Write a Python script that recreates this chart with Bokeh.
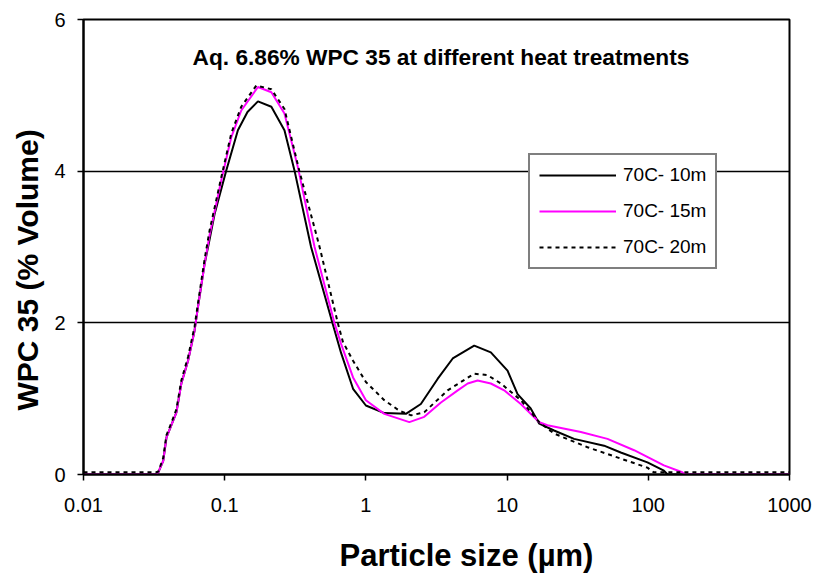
from bokeh.plotting import figure
from bokeh.models import Range1d, FixedTicker, Label, Title, LogAxis, CustomJSTickFormatter
from bokeh.embed import file_html
from bokeh.resources import INLINE

# ---- data ----
x10 = [0.01, 0.0328, 0.0339, 0.0367, 0.0387, 0.0419, 0.0455, 0.0493, 0.0550, 0.0612, 0.0647,
       0.0721, 0.0782, 0.0849, 0.1026, 0.124, 0.145, 0.172, 0.214, 0.265, 0.312, 0.409, 0.577,
       0.668, 0.811, 1.00, 1.35, 1.92, 2.45, 3.22, 4.12, 5.85, 7.67, 10.07, 11.86, 14.7, 16.9,
       21.5, 29.8, 48.6, 63.8, 98.6, 129, 137, 1000]
y10 = [0, 0, 0.03, 0.18, 0.49, 0.65, 0.82, 1.20, 1.50, 1.90, 2.21,
       2.78, 3.10, 3.44, 4.01, 4.54, 4.78, 4.92, 4.85, 4.54, 4.01, 3.00, 2.01,
       1.60, 1.13, 0.91, 0.81, 0.80, 0.93, 1.26, 1.53, 1.70, 1.61, 1.37, 1.06, 0.87, 0.67,
       0.58, 0.47, 0.38, 0.29, 0.16, 0.05, 0, 0]

x15 = [0.01, 0.0328, 0.0339, 0.0367, 0.0387, 0.0419, 0.0455, 0.0493, 0.0550, 0.0612, 0.0647,
       0.0721, 0.0782, 0.0946, 0.1114, 0.131, 0.172, 0.214, 0.265, 0.330, 0.433, 0.598,
       0.668, 0.811, 1.00, 1.35, 2.03, 2.59, 3.40, 4.47, 5.26, 6.18, 7.67, 9.53, 12.5, 16.9,
       19.3, 33.3, 51.4, 79.3, 129, 174, 184, 1000]
y15 = [0, 0, 0.03, 0.18, 0.49, 0.65, 0.82, 1.20, 1.50, 1.90, 2.21,
       2.78, 3.16, 3.88, 4.45, 4.80, 5.11, 5.04, 4.76, 4.05, 3.00, 2.00,
       1.72, 1.28, 0.98, 0.80, 0.69, 0.76, 0.95, 1.11, 1.20, 1.24, 1.20, 1.11, 0.93, 0.69,
       0.65, 0.56, 0.47, 0.32, 0.12, 0.03, 0, 0]

x20 = [0.01, 0.0328, 0.0339, 0.0367, 0.0387, 0.0419, 0.0455, 0.0493, 0.0550, 0.0612, 0.0647,
       0.0721, 0.0782, 0.0946, 0.1114, 0.131, 0.1675, 0.214, 0.265, 0.337, 0.470, 0.632,
       0.687, 0.811, 1.00, 1.35, 1.73, 2.09, 2.59, 3.79, 4.71, 5.85, 7.28, 9.04, 12.5, 16.9,
       21.5, 37.1, 63.8, 98.6, 109, 122, 1000]
y20 = [0.03, 0.03, 0.04, 0.22, 0.52, 0.68, 0.86, 1.24, 1.55, 1.95, 2.26,
       2.84, 3.22, 3.92, 4.50, 4.85, 5.13, 5.08, 4.82, 4.01, 3.00, 2.00,
       1.75, 1.50, 1.22, 0.98, 0.84, 0.78, 0.82, 1.11, 1.22, 1.33, 1.31, 1.20, 0.98, 0.69,
       0.54, 0.36, 0.21, 0.09, 0.03, 0.03, 0.03]

series_names = ["70C- 10m", "70C- 15m", "70C- 20m"]
x_ticks = [0.01, 0.1, 1, 10, 100, 1000]
y_ticks = [0, 2, 4, 6]

FONT = "Liberation Sans"

p = figure(width=812, height=580, x_axis_type="log",
           x_range=Range1d(0.01, 1000), y_range=Range1d(0, 6),
           output_backend="svg", toolbar_location=None, title=None,
           min_border_left=82, min_border_top=19, min_border_right=23, min_border_bottom=106)

p.background_fill_color = "white"
p.border_fill_color = "white"
p.outline_line_color = "black"
p.outline_line_width = 2

p.line(x10, y10, line_color="black", line_width=2, legend_label=series_names[0])
p.line(x15, y15, line_color="#FF00FF", line_width=2, legend_label=series_names[1])
p.line(x20, y20, line_color="black", line_width=2, line_dash="4 4", legend_label=series_names[2])

# axes
p.xaxis.ticker = FixedTicker(ticks=x_ticks, minor_ticks=[])
p.xaxis.formatter = CustomJSTickFormatter(code="return tick.toString();")
p.yaxis.ticker = FixedTicker(ticks=y_ticks, minor_ticks=[])
for ax in (p.xaxis, p.yaxis):
    ax.axis_line_color = "black"
    ax.axis_line_width = 2
    ax.major_tick_line_color = "black"
    ax.major_tick_line_width = 1.5
    ax.major_tick_out = 6
    ax.major_tick_in = 0
    ax.minor_tick_line_color = None
    ax.major_label_text_font = FONT
    ax.major_label_text_font_size = "20px"
    ax.major_label_text_color = "black"
p.yaxis.major_label_standoff = 12
p.xaxis.major_label_standoff = 17

p.xgrid.visible = False
p.ygrid.ticker = FixedTicker(ticks=[2, 4])
p.ygrid.grid_line_color = "black"
p.ygrid.grid_line_width = 1.5

# blank spacer band below the tick labels (white tick, empty label)
spacer = LogAxis(ticker=FixedTicker(ticks=[500], minor_ticks=[]), axis_line_color=None,
                 major_tick_line_color="white", minor_tick_line_color=None,
                 major_tick_out=21, major_tick_in=0, major_label_standoff=0,
                 major_label_text_font_size="1px", major_label_text_color="white",
                 formatter=CustomJSTickFormatter(code="return '';"))
p.add_layout(spacer, "below")

# axis titles
p.add_layout(Title(text="WPC 35 (% Volume)", align="left", offset=64, standoff=16,
                   vertical_align="bottom", text_font=FONT, text_font_size="30px",
                   text_font_style="bold", text_color="black"), "left")
p.add_layout(Title(text="Particle size (µm)", align="left", offset=256, standoff=0,
                   vertical_align="bottom", text_font=FONT, text_font_size="31px",
                   text_font_style="bold", text_color="black"), "below")

# chart title inside plot
p.add_layout(Label(x=3.4, y=5.51, text="Aq. 6.86% WPC 35 at different heat treatments",
                   text_align="center", text_baseline="middle", text_font=FONT,
                   text_font_size="22.7px", text_font_style="bold", text_color="black"))

# legend
lg = p.legend[0]
lg.location = (445, 205)
lg.border_line_color = "black"
lg.border_line_width = 2
lg.background_fill_color = "white"
lg.background_fill_alpha = 1
lg.label_text_font = FONT
lg.label_text_font_size = "19px"
lg.label_text_color = "black"
lg.glyph_width = 77
lg.glyph_height = 22
lg.label_height = 22
lg.label_standoff = 7
lg.spacing = 14
lg.padding = 9
lg.margin = 0

open("out.html", "w").write(file_html(p, INLINE))
